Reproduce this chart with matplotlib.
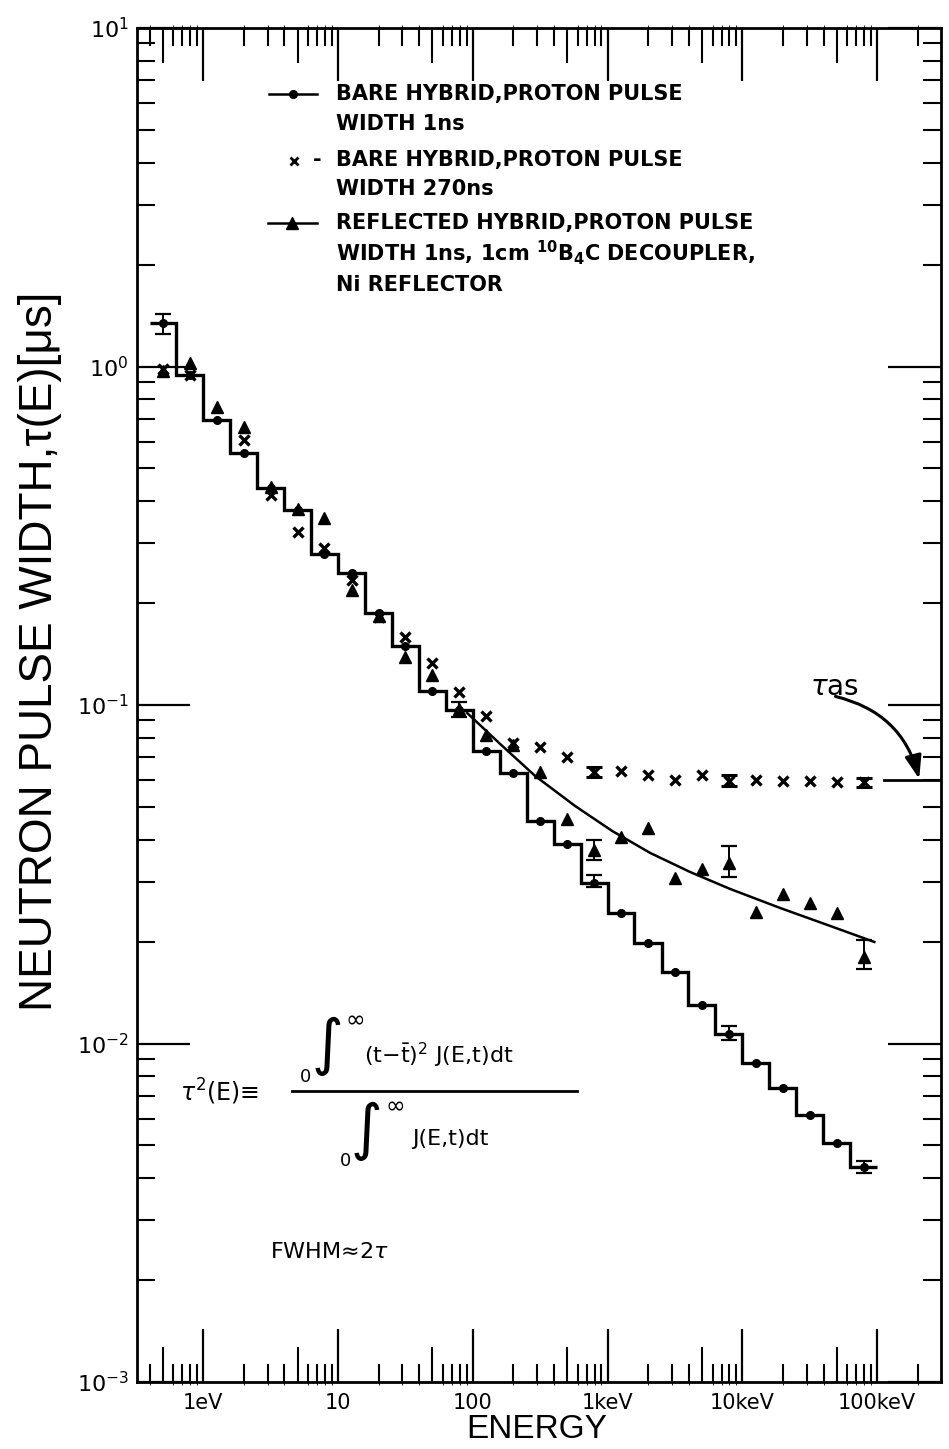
import numpy as np
import matplotlib
matplotlib.use("Agg")
import matplotlib.pyplot as plt
from matplotlib.lines import Line2D
from matplotlib.patches import FancyArrowPatch
from matplotlib.ticker import FixedLocator, FixedFormatter, LogLocator, NullFormatter

plt.rcParams["font.family"] = ["DejaVu Sans"]
plt.rcParams["mathtext.fontset"] = "dejavusans"

# ---------------- data (energies in eV, widths in microseconds) ----------------
energy = [0.5, 0.79, 1.26, 2.0, 3.16, 5.0, 7.9, 12.6, 20, 31.6, 50, 79, 126, 200,
          316, 500, 794, 1260, 2000, 3160, 5010, 7940, 12600, 20000, 31600, 50100, 79400]
bin_edges = [0.4, 0.63, 1.0, 1.58, 2.5, 4.0, 6.3, 10, 15.8, 25, 40, 63, 100, 158, 251,
             398, 631, 1000, 1580, 2510, 3980, 6310, 10000, 15800, 25100, 39800, 63100, 100000]

bare_1ns = [1.34, 0.944, 0.695, 0.556, 0.437, 0.377, 0.279, 0.245, 0.187, 0.149, 0.110,
            0.0967, 0.0733, 0.0631, 0.0455, 0.0388, 0.0297, 0.0243, 0.0198, 0.0163,
            0.0130, 0.0107, 0.00874, 0.00738, 0.00615, 0.00509, 0.00432]
bare_1ns_err_E = [0.5, 79, 794, 7940, 79400]
bare_1ns_err_lo = [1.25, 0.0924, 0.0290, 0.01024, 0.00415]
bare_1ns_err_hi = [1.43, 0.102, 0.0315, 0.01126, 0.00451]

bare_270ns = [0.985, 0.944, np.nan, 0.6065, 0.417, 0.325, 0.290, 0.234, 0.182, 0.159, 0.133,
              0.1095, 0.0928, 0.0771, 0.0753, 0.0704, 0.0635, 0.0640, 0.0621, 0.0600,
              0.0621, 0.0598, 0.0600, 0.0598, 0.0598, 0.0593, 0.0591]
bare_270ns_err_E = [794, 7940, 79400]
bare_270ns_err_lo = [0.0614, 0.0578, 0.0574]
bare_270ns_err_hi = [0.0657, 0.0621, 0.0608]

reflected = [0.97, 1.022, 0.758, 0.664, 0.44, 0.38, 0.356, 0.219, 0.183, 0.139, 0.1226,
             0.097, 0.0816, 0.0762, 0.0635, 0.0460, 0.0373, 0.0408, 0.0432, 0.0308,
             0.0327, 0.0341, 0.0245, 0.0277, 0.0260, 0.0243, 0.0180]
reflected_err_E = [794, 7940, 79400]
reflected_err_lo = [0.0348, 0.0311, 0.01656]
reflected_err_hi = [0.0399, 0.0382, 0.0202]

fit_E = [90.7, 159.5, 290, 574, 1081, 2070, 4100, 8130, 19100, 44900, 95300]
fit_tau = [0.0947, 0.0767, 0.0617, 0.0503, 0.04245, 0.03655, 0.0321, 0.0286,
           0.02513, 0.02224, 0.01995]

tau_as = 0.060
tau_as_E = [113000, 295000]

x_major = [1, 10, 100, 1e3, 1e4, 1e5]
x_major_labels = ["1eV", "10", "100", "1keV", "10keV", "100keV"]

# ---------------- figure ----------------
W, H = 949, 1449
fig = plt.figure(figsize=(W / 100, H / 100), dpi=100)


def fx(x):
    return x / W


def fy(y):
    return 1 - y / H


ax = fig.add_axes([fx(137), fy(1382), (940.7 - 137) / W, (1382 - 28) / H])
ax.set_xscale("log")
ax.set_yscale("log")
ax.set_xlim(0.322, 2.96e5)
ax.set_ylim(1e-3, 10)

for sp in ax.spines.values():
    sp.set_linewidth(2.0)

# step histogram (bare hybrid, 1 ns)
ax.stairs(bare_1ns, bin_edges, baseline=None, color="black", lw=2.4)
ax.plot(energy, bare_1ns, "o", color="black", ms=5.5)
ax.vlines(bare_1ns_err_E, bare_1ns_err_lo, bare_1ns_err_hi, color="black", lw=1.4)
for lo_hi in (bare_1ns_err_lo, bare_1ns_err_hi):
    ax.plot(bare_1ns_err_E, lo_hi, "_", color="black", ms=11, mew=1.6)

# bare hybrid, 270 ns
ax.plot(energy, bare_270ns, "x", color="black", ms=6.5, mew=2.4)
ax.vlines(bare_270ns_err_E, bare_270ns_err_lo, bare_270ns_err_hi, color="black", lw=1.4)
for lo_hi in (bare_270ns_err_lo, bare_270ns_err_hi):
    ax.plot(bare_270ns_err_E, lo_hi, "_", color="black", ms=11, mew=2.2)

# reflected hybrid
ax.plot(energy, reflected, "^", color="black", ms=8.5)
ax.vlines(reflected_err_E, reflected_err_lo, reflected_err_hi, color="black", lw=1.4)
for lo_hi in (reflected_err_lo, reflected_err_hi):
    ax.plot(reflected_err_E, lo_hi, "_", color="black", ms=11, mew=1.6)
ax.plot(fit_E, fit_tau, "-", color="black", lw=1.8)

# asymptote marker
ax.plot(tau_as_E, [tau_as, tau_as], "-", color="black", lw=2.0)
ax.text(3.2e4, 0.113, r"$\tau$as", fontsize=20, va="center", ha="left")
arr = FancyArrowPatch(posA=(4.9e4, 0.106), posB=(2.05e5, 0.0605),
                      connectionstyle="arc3,rad=-0.3",
                      arrowstyle="-|>,head_length=14,head_width=5",
                      color="black", lw=2.2, shrinkA=0, shrinkB=0)
ax.add_patch(arr)

# ---------------- ticks ----------------
ax.xaxis.set_major_locator(FixedLocator(x_major))
ax.xaxis.set_major_formatter(FixedFormatter(x_major_labels))
ax.xaxis.set_minor_locator(LogLocator(base=10, subs=[2, 3, 4, 6, 7, 8, 9], numticks=30))
ax.xaxis.set_minor_formatter(NullFormatter())
ax.yaxis.set_major_locator(LogLocator(base=10, numticks=10))
ax.yaxis.set_minor_locator(LogLocator(base=10, subs=[2, 3, 4, 5, 6, 7, 8, 9], numticks=30))
ax.yaxis.set_minor_formatter(NullFormatter())

ax.tick_params(which="major", direction="in", length=38, width=1.6,
               top=True, right=True, labelsize=15, pad=8)
ax.tick_params(which="minor", direction="in", length=13, width=1.5,
               top=True, right=True)
ax.tick_params(axis="y", which="major", pad=6, labelsize=16)

for side in ("bottom", "top"):
    sec = ax.secondary_xaxis(side)
    sec.xaxis.set_major_locator(LogLocator(base=10, subs=[5], numticks=30))
    sec.tick_params(direction="in", length=25, width=1.5,
                    labelbottom=False, labeltop=False)
    sec.spines[side].set_visible(False)

ax.set_xlabel("ENERGY", family=["Liberation Sans", "DejaVu Sans"], fontsize=24)
ax.xaxis.set_label_coords((537 - 137) / 803.7, -(1430 - 1382) / 1354)
ax.xaxis.label.set_va("center")
ax.set_ylabel("NEUTRON PULSE WIDTH,τ(E)[μs]", family=["Liberation Sans", "DejaVu Sans"],
              fontsize=33)
ax.yaxis.set_label_coords((40 - 137) / 803.7, 1 - (651 - 28) / 1354)
ax.yaxis.label.set_va("center")

# ---------------- legend (drawn by hand) ----------------
lg = dict(fontsize=15, fontweight="bold", va="center", ha="left")
fig.add_artist(Line2D([fx(269), fx(293), fx(317)], [fy(94)] * 3, color="black", lw=1.8,
                      marker="o", markevery=[1], ms=5.5))
fig.text(fx(336), fy(94), "BARE HYBRID,PROTON PULSE", **lg)
fig.text(fx(336), fy(124), "WIDTH 1ns", **lg)
fig.add_artist(Line2D([fx(294)], [fy(161)], color="black", lw=0, marker="x",
                      ms=6, mew=2))
fig.text(fx(322), fy(160), "-", fontsize=15, fontweight="bold", va="center", ha="right")
fig.text(fx(336), fy(160), "BARE HYBRID,PROTON PULSE", **lg)
fig.text(fx(336), fy(189), "WIDTH 270ns", **lg)
fig.add_artist(Line2D([fx(268), fx(292), fx(317)], [fy(223)] * 3, color="black", lw=1.8,
                      marker="^", markevery=[1], ms=8))
fig.text(fx(336), fy(223), "REFLECTED HYBRID,PROTON PULSE", **lg)
fig.text(fx(336), fy(253), r"WIDTH 1ns, 1cm $^{\mathbf{10}}$B$_{\mathbf{4}}$C DECOUPLER,", **lg)
fig.text(fx(336), fy(285), "Ni REFLECTOR", **lg)

# ---------------- formula ----------------
fig.text(fx(180), fy(1092), r"$\tau^{2}$(E)≡", fontsize=17, va="center", ha="left")
fig.add_artist(Line2D([fx(292), fx(577)], [fy(1091), fy(1091)], color="black", lw=2.0))
fig.text(fx(300), fy(1077), "0", fontsize=13, va="center", ha="left")
fig.text(fx(327), fy(1046), "∫", fontsize=44, va="center", ha="center")
fig.text(fx(345), fy(1020), "∞", fontsize=17, va="center", ha="left")
fig.text(fx(364), fy(1055), r"(t$-\bar{\mathrm{t}}$)$^{2}$ J(E,t)dt", fontsize=16,
         va="center", ha="left")
fig.text(fx(340), fy(1161), "0", fontsize=13, va="center", ha="left")
fig.text(fx(366), fy(1131), "∫", fontsize=44, va="center", ha="center")
fig.text(fx(385), fy(1106), "∞", fontsize=17, va="center", ha="left")
fig.text(fx(412), fy(1139), "J(E,t)dt", fontsize=16, va="center", ha="left")
fig.text(fx(270), fy(1252), r"FWHM≈2$\tau$", fontsize=16, va="center", ha="left")

fig.savefig("out.png", dpi=100)
